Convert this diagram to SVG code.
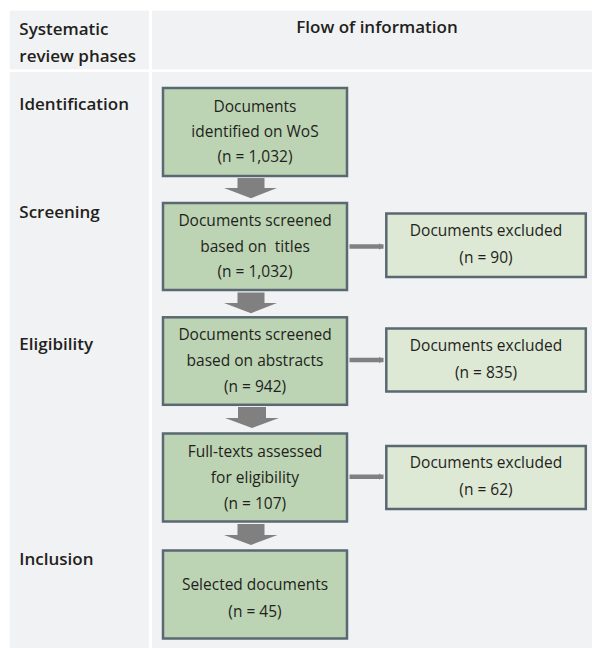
<svg xmlns="http://www.w3.org/2000/svg" width="592" height="648" viewBox="0 0 592 648">
<style>
.panel{fill:#f1f2f4;}
.hd{font-family:"Open Sans","Noto Sans","Liberation Sans",sans-serif;font-weight:600;font-size:17px;fill:#231f20;}
.tx{font-family:"Open Sans","Noto Sans","Liberation Sans",sans-serif;font-size:15.5px;fill:#231f20;text-anchor:middle;}
.main rect{fill:#bcd4b3;stroke:#5a6872;stroke-width:2.5;}
.excl rect{fill:#dde8d5;stroke:#5a6872;stroke-width:2.5;}
.big{fill:#808080;}
.small{stroke:#808080;stroke-width:4.5;fill:none;marker-end:url(#ah);}
</style>
<defs>
<marker id="ah" markerUnits="userSpaceOnUse" markerWidth="6" markerHeight="8" refX="5" refY="4" orient="auto">
<path d="M0,0.5 L5,4 L0,7.5 Z" fill="#808080"/>
</marker>
</defs>
<rect x="0" y="0" width="592" height="648" fill="#ffffff"/>
<g id="table">
<rect class="panel" x="9.7" y="10.7" width="139.3" height="58.6"/>
<rect class="panel" x="152" y="10.7" width="440" height="58.6"/>
<rect class="panel" x="9.7" y="72" width="139.3" height="576"/>
<rect class="panel" x="152" y="72" width="440" height="576"/>
<text class="hd" x="19.3" y="35">Systematic</text>
<text class="hd" x="19.3" y="61.7">review phases</text>
<text class="hd" x="377" y="33.3" text-anchor="middle">Flow of information</text>
<text class="hd" x="19.3" y="110">Identification</text>
<text class="hd" x="19.3" y="218.3">Screening</text>
<text class="hd" x="19.3" y="350">Eligibility</text>
<text class="hd" x="19.3" y="565">Inclusion</text>
</g>
<g id="connectors">
<path class="big" d="M237.5,178 H264.5 V188 H277 L251,198.3 L224,188 H237.5 Z"/>
<path class="big" d="M237.5,292.5 H264.5 V303 H277 L251,313.3 L224,303 H237.5 Z"/>
<path class="big" d="M238,407 H266 V418 H279 L252,428 L225,418 H238 Z"/>
<path class="big" d="M237.5,524 H264.5 V535 H277.5 L251,545 L224,535 H237.5 Z"/>
<line class="small" x1="349.5" y1="246.5" x2="383.5" y2="246.5"/>
<line class="small" x1="349.5" y1="360" x2="383.5" y2="360"/>
<line class="small" x1="349.5" y1="476.7" x2="383.5" y2="476.7"/>
</g>
<g id="n1" class="main">
<rect x="163" y="88" width="184" height="88"/>
<text class="tx" x="255" y="111.7">Documents</text>
<text class="tx" x="255" y="136.7">identified on WoS</text>
<text class="tx" x="255" y="161.7">(n = 1,032)</text>
</g>
<g id="n2" class="main">
<rect x="163" y="203" width="184" height="87"/>
<text class="tx" x="255" y="225.5">Documents screened</text>
<text class="tx" x="255" y="251.5" xml:space="preserve">based on  titles</text>
<text class="tx" x="255" y="276.5">(n = 1,032)</text>
</g>
<g id="n3" class="main">
<rect x="163" y="317.3" width="184" height="87.5"/>
<text class="tx" x="255" y="340">Documents screened</text>
<text class="tx" x="255" y="366">based on abstracts</text>
<text class="tx" x="255" y="391.7">(n = 942)</text>
</g>
<g id="n4" class="main">
<rect x="163" y="433.5" width="184" height="88"/>
<text class="tx" x="255" y="456.7">Full-texts assessed</text>
<text class="tx" x="255" y="483.3">for eligibility</text>
<text class="tx" x="255" y="509.3">(n = 107)</text>
</g>
<g id="n5" class="main">
<rect x="163" y="550.5" width="184" height="88"/>
<text class="tx" x="255" y="590">Selected documents</text>
<text class="tx" x="255" y="616.7">(n = 45)</text>
</g>
<g id="e1" class="excl">
<rect x="386.3" y="213.5" width="199.5" height="63.5"/>
<text class="tx" x="486" y="236">Documents excluded</text>
<text class="tx" x="486" y="263.3">(n = 90)</text>
</g>
<g id="e2" class="excl">
<rect x="386.3" y="328.5" width="199.5" height="63"/>
<text class="tx" x="486" y="350.7">Documents excluded</text>
<text class="tx" x="486" y="378">(n = 835)</text>
</g>
<g id="e3" class="excl">
<rect x="386.3" y="446" width="199.5" height="63"/>
<text class="tx" x="486" y="468.3">Documents excluded</text>
<text class="tx" x="486" y="495">(n = 62)</text>
</g>
</svg>
